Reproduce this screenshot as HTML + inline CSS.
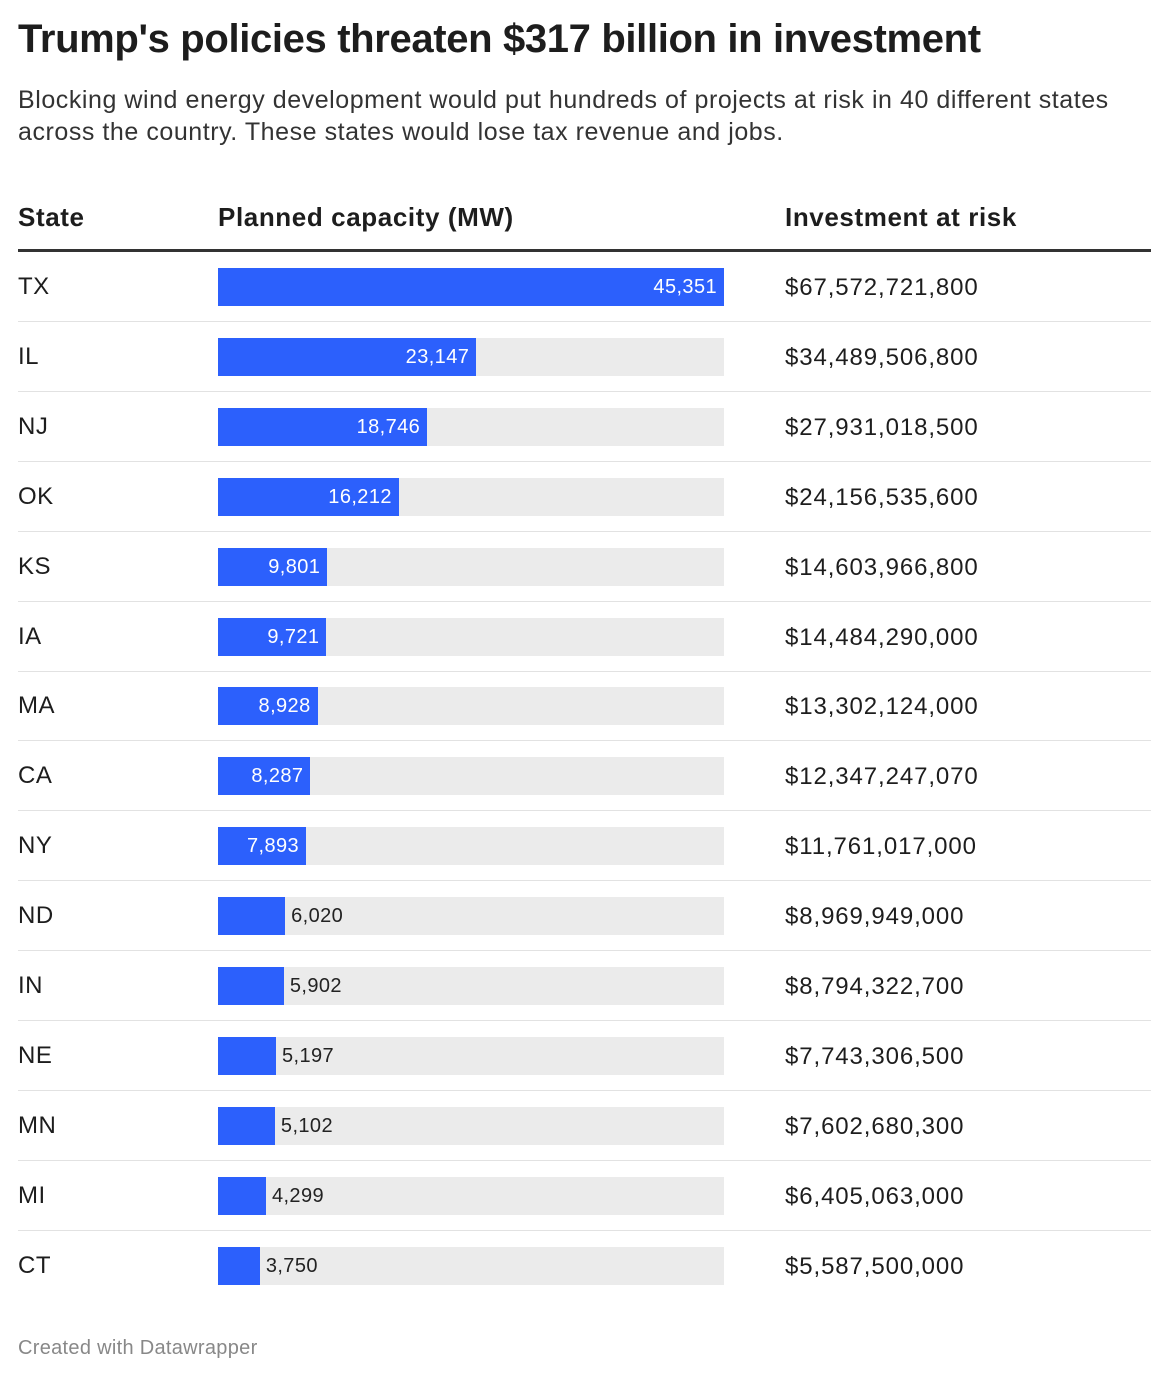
<!DOCTYPE html>
<html><head><meta charset="utf-8">
<style>
body{margin:0;background:#fff;width:1166px;height:1380px;overflow:hidden;font-family:"Liberation Sans",sans-serif;color:#1d1d1d;position:relative}
.abs{position:absolute;white-space:nowrap}
</style></head><body>
<div class="abs" style="left:18px;top:17px;font-size:40px;font-weight:bold;letter-spacing:-0.35px">Trump's policies threaten $317 billion in investment</div>
<div class="abs" style="left:18px;top:84px;font-size:25px;line-height:32px;color:#333;white-space:normal;width:1130px;letter-spacing:0.55px">Blocking wind energy development would put hundreds of projects at risk in 40 different states across the country. These states would lose tax revenue and jobs.</div>
<div class="abs" style="left:18px;top:202px;font-size:26px;font-weight:bold;letter-spacing:0.6px">State</div>
<div class="abs" style="left:218px;top:202px;font-size:26px;font-weight:bold;letter-spacing:0.6px">Planned capacity (MW)</div>
<div class="abs" style="left:785px;top:202px;font-size:26px;font-weight:bold;letter-spacing:0.6px">Investment at risk</div>
<div class="abs" style="left:18px;top:249px;width:1133px;height:3px;background:#333"></div>
<div id="rows"></div>
<div class="abs" style="left:18px;top:1337px;font-size:20px;color:#888;letter-spacing:0.3px">Created with Datawrapper</div>
<script>
const states=["TX","IL","NJ","OK","KS","IA","MA","CA","NY","ND","IN","NE","MN","MI","CT"];
const capacity=[45351,23147,18746,16212,9801,9721,8928,8287,7893,6020,5902,5197,5102,4299,3750];
const investment=["$67,572,721,800","$34,489,506,800","$27,931,018,500","$24,156,535,600","$14,603,966,800","$14,484,290,000","$13,302,124,000","$12,347,247,070","$11,761,017,000","$8,969,949,000","$8,794,322,700","$7,743,306,500","$7,602,680,300","$6,405,063,000","$5,587,500,000"];
const maxV=45351,barX=218,barW=506;
const x=v=>v/maxV*barW;
const root=document.getElementById('rows');
function mk(css,txt){const d=document.createElement('div');d.className='abs';d.style.cssText=css;if(txt!=null)d.textContent=txt;root.appendChild(d);return d;}
states.forEach((s,i)=>{
 const cy=287+i*69.9;
 const r=mk(`left:18px;top:${cy-14}px;font-size:24px;color:#1d1d1d;letter-spacing:0.5px`,s);
 
 
 const bg=mk(`left:${barX}px;top:${cy-19}px;width:${barW}px;height:38px;background:#ebebeb`);
 
 
 const w=x(capacity[i]);
 const b=mk(`left:${barX}px;top:${cy-19}px;width:${w}px;height:38px;background:#2c60fc`);
 
 
 const lbl=capacity[i].toLocaleString('en-US');
 let t;
 if(capacity[i]>=7000){t=mk(`left:${barX}px;width:${w-7}px;text-align:right;top:${cy-11}px;font-size:20px;color:#fff;letter-spacing:0.4px`,lbl);}
 else{t=mk(`left:${barX+w+6}px;top:${cy-11}px;font-size:20px;color:#222;letter-spacing:0.4px`,lbl);}
 
 
 const inv=mk(`left:785px;top:${cy-13}px;font-size:24px;color:#1d1d1d;letter-spacing:0.9px`,investment[i]);
 
 
 if(i<states.length-1){const l=mk(`left:18px;top:${cy+34}px;width:1133px;height:1px;background:#e2e2e2`);
 
 }
});
</script>
</body></html>
